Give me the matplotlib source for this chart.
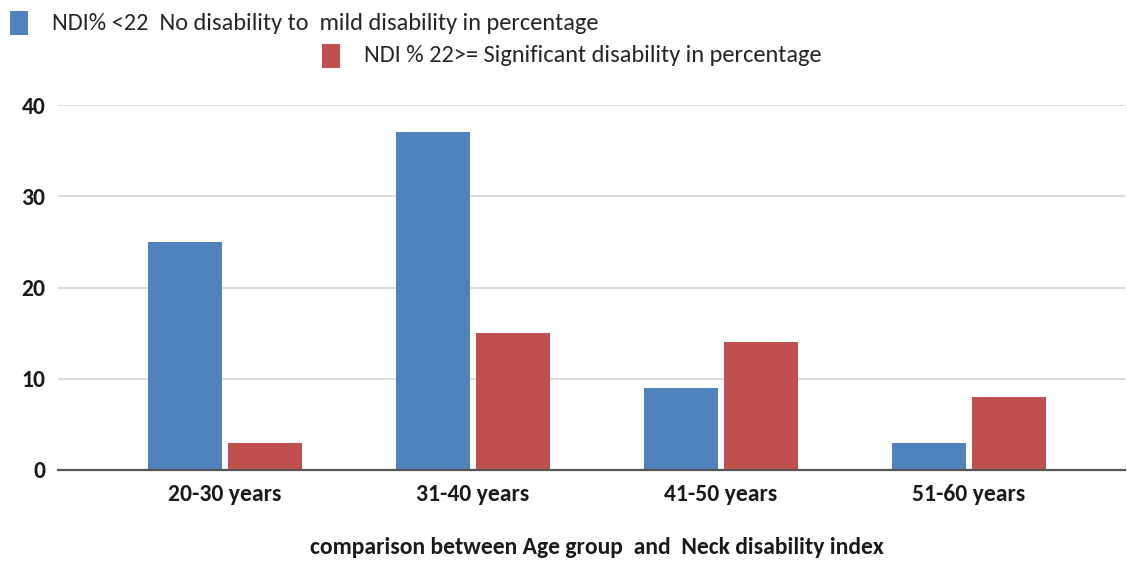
import matplotlib
matplotlib.use("Agg")
import matplotlib.pyplot as plt
from matplotlib import font_manager
from matplotlib.patches import Rectangle
import numpy as np

# Data
age_groups = ["20-30 years", "31-40 years", "41-50 years", "51-60 years"]
ndi_mild = [25, 37, 9, 3]          # NDI% <22
ndi_significant = [3, 15, 14, 8]   # NDI% >=22
series_labels = ["NDI% <22  No disability to  mild disability in percentage",
                 "NDI % 22>= Significant disability in percentage"]
y_ticks = [0, 10, 20, 30, 40]
x_title = "comparison between Age group  and  Neck disability index"

blue = "#4F81BD"
red = "#C0504D"

available = {f.name for f in font_manager.fontManager.ttflist}
for cand in ["Carlito", "Liberation Sans Narrow", "IBM Plex Sans Condensed", "Liberation Sans"]:
    if cand in available:
        family = cand
        break
plt.rcParams["font.family"] = [family, "DejaVu Sans"]
fs = 17 if family == "Carlito" else 14
fs_leg = fs * 1.035

W, H = 1127, 561
fig = plt.figure(figsize=(W / 100, H / 100), dpi=100)
ax = fig.add_axes([58 / W, (H - 470) / H, (1125 - 58) / W, (470 - 105) / H])

x = np.arange(len(age_groups))
bw = 0.30
off = 0.161
ax.bar(x - off, ndi_mild, width=bw, color=blue, zorder=3)
ax.bar(x + off, ndi_significant, width=bw, color=red, zorder=3)

ax.set_xlim(-(225 - 58) / 248, (1125 - 225) / 248)
ax.set_ylim(0, 40)
ax.set_yticks(y_ticks)
ax.set_yticklabels([str(v) for v in y_ticks], fontsize=fs, fontweight="bold", color="#1a1a1a")
ax.set_xticks(x)
ax.set_xticklabels(age_groups, fontsize=fs, fontweight="bold", color="#1a1a1a")
ax.tick_params(axis="both", length=0)
ax.tick_params(axis="y", pad=9)
ax.tick_params(axis="x", pad=10)

ax.yaxis.grid(True, color="#d4d4d4", linewidth=1.2, zorder=0)
for s in ["top", "right", "left"]:
    ax.spines[s].set_visible(False)
ax.spines["bottom"].set_color("#555555")
ax.spines["bottom"].set_linewidth(1.6)
ax.spines["bottom"].set_zorder(4)

fig.text(597 / W, 1 - 548 / H, x_title, ha="center", va="center",
         fontsize=fs, fontweight="bold", color="#1a1a1a")

# Legend entries
def legend_entry(x0, yc, color, label):
    fig.add_artist(Rectangle((x0 / W, 1 - (yc + 12) / H), 18 / W, 24 / H,
                             transform=fig.transFigure, facecolor=color,
                             edgecolor="none"))
    fig.text((x0 + 42) / W, 1 - yc / H, label, ha="left", va="center",
             fontsize=fs_leg, color="#262626")

legend_entry(10, 23, blue, series_labels[0])
legend_entry(322, 56, red, series_labels[1])

fig.savefig("out.png", dpi=100, facecolor="white")
